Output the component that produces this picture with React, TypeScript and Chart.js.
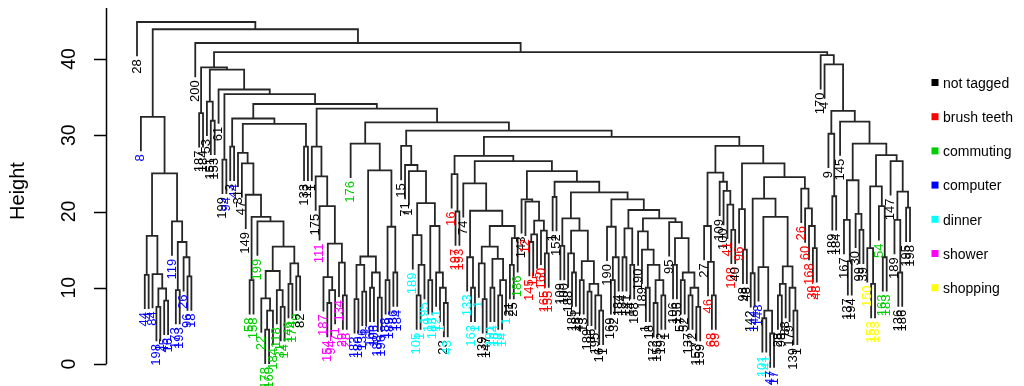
import React, { useEffect, useRef } from "react";
import { Chart, registerables } from "chart.js";

Chart.register(...registerables);

// ---- axis / legend data ----
const yTicks = [0, 10, 20, 30, 40];
const axisTop = 46.7;
const legendLabels = ["not tagged", "brush teeth", "commuting", "computer", "dinner", "shower", "shopping"];
const legendColors = ["#000000", "#FF0000", "#00CD00", "#0000FF", "#00FFFF", "#FF00FF", "#FFFF00"];
const colorCodes = ["k", "r", "g", "b", "c", "m", "y"];
const hang = 4.5;

// ---- dendrogram (leaf = label + group code, node = (left,right)height) ----
const clusterC8 = "(8b,(((44b,4b)11.7,(84b,((198b,1b)7.5,(45b,16b)8.3)9.9)11.8)16.8,(119b,((173b,193b)9.7,(26b,(96b,18b)11.5)14)16)18.7)25)32.4";
const clusterG = "((58g,158g)11,(199g,(((22g,((178g,160g)4.5,184g)7)8.6,(118g,(31g,14g)7.5)9.7)12.2,((146g,174g)10.5,(39g,82k)11.5)13.2)15.4)18.7)19.3";
const clusterQ = `((31k,(47k,(149k,${clusterG})22.2)26.3)27.7,(133k,12k)28.5)31.5`;
const clusterP = `((3k,44b)28.5,${clusterQ})32.2`;
const clusterM = "((187m,((154m,94m)8,71m)9.7)11.4,(134m,(29m,28m)9)13.3)15.8";
const clusterRl = `(1k,(175k,(111m,${clusterM})20.7)24.6)28.5`;
const clusterB = "((((182b,180b)8.5,(136b,1b)9.5)13,((166b,106b)10,(188b,196b)8.7)12)14.1,((188b,189b)11,(186b,184b)12)18)25.4";
const clusterSl = `(176g,${clusterB})28.9`;
const clusterC1 = "(189c,((105c,1c)9,195c)13)16.9";
const clusterC2 = "((19c,183c)11,(121c,(1c,(23k,43c)8)10)12)18.1";
const clusterTl = `(15k,(71k,(1k,(${clusterC1},${clusterC2})21.1)25.3)26.1)28.6`;
const clusterVl = "(16r,(197r,193r)20)24.9";
const clusterWn = "((133c,(163c,1c)10)14,(((1c,(139k,147k)8.5)13.2,((191c,184c)10,((18c,14c)9,1c)11)13.8)15.4,((21k,25k)13,186g)16.5)18.1)20.1";
const clusterX1l = "(143k,(12r,(((145r,1r)16,5r)17,(160r,(165r,155r)14.5)17.5)18.8)21.3)21.6";
const clusterZ1l = "((109k,100k)15.5,((188k,(185k,181k)12)14.5,((43k,13k)11,((189k,86k)9.5,(195k,(16k,1k)7)9)10.5)13.5)17.5)19.1";
const clusterZ2l = "(190k,((169k,32k)11,184k)14)18";
const clusterZ3l = "((184k,141k)14,(14k,188k)13)17.8";
const clusterZ4l = "(190k,(189k,((1k,18k)10,((172k,153k)8,(192k,1k)9)11)13)15)17.4";
const clusterZ5 = "(95k,((106k,156k)13,((57k,52k)11,((137k,72k)9,(153k,159k)7.5)10)12)16.5)18.6";
const clusterY1l = "((27k,(46r,(68r,89r)9)13.4)18.1,(109k,(100k,(41r,(108r,40k)17.6)20.9)22.7)23.9)25.1";
const clusterY3r = "((148b,((101c,141c)6,(47b,17b)4)7)12.7,(((28k,98k)9,88k)10.5,(179k,(139k,1k)7)10)12.8)19.3";
const clusterY4 = "(26r,(60r,(168r,(39r,48r)15.2)18.1)20.4)23";
const clusterN5d = "((167k,(137k,194k)13.5)18.9,(30k,(99k,39k)17.6)19.7)24.1";
const clusterN5f = "((150y,(153y,183y)10.5)15.2,(54g,(163g,183g)14)20.7)23.3";
const clusterN5g = "(147k,((189k,(136k,186k)12)18.9,(195k,198k)20.5)22.6)26.6";

const clusterZ = `(${clusterZ1l},(${clusterZ2l},(${clusterZ3l},(${clusterZ4l},${clusterZ5})19.1)20.2)21.6)22.5`;
const clusterX1 = `(${clusterX1l},((1k,152k)21.9,${clusterZ})23.9)25.3`;
const clusterV = `(${clusterVl},((74k,${clusterWn})23.7,${clusterX1})26.6)27.3`;
const clusterY1 = `(${clusterY1l},((96r,(98k,48k)15)20.3,(((142k,144b)11.9,${clusterY3r})21.7,${clusterY4})24.5)26.3)28.6`;
const clusterS = `(${clusterSl},(${clusterTl},(${clusterV},${clusterY1})29.8)30.6)31.7`;
const clusterN4 = `((187k,184k)32.9,((53k,(151k,153k)31.9)34.4,(61k,((199k,94b)26.8,(${clusterP},(${clusterRl},${clusterS})33.5)34.1)35.4)36)38.6)38.9`;
const clusterN5 = `(170k,(4k,((9k,(189k,184k)22)30.2,(145k,(${clusterN5d},(${clusterN5f},${clusterN5g})27.4)28.9)31.8)33.2)39.3)40.5`;
const treeRoot = `(28k,(${clusterC8},(200k,(${clusterN4},${clusterN5})40.9)42.1)43.9)44.85`;

type TNode =
  | { leaf: true; label: string; code: string }
  | { leaf: false; h: number; left: TNode; right: TNode };

function parseTree(s: string): TNode {
  let i = 0;
  const readNum = () => {
    const j = i;
    while (i < s.length && /[0-9.]/.test(s[i])) i++;
    return parseFloat(s.slice(j, i));
  };
  const node = (): TNode => {
    if (s[i] === "(") {
      i++;
      const left = node();
      i++; // ,
      const right = node();
      i++; // )
      const h = readNum();
      return { leaf: false, h, left, right };
    }
    const j = i;
    while (/[0-9]/.test(s[i])) i++;
    const label = s.slice(j, i);
    const code = s[i];
    i++;
    return { leaf: true, label, code };
  };
  return node();
}

type Leaf = { idx: number; label: string; color: string; yEnd: number };

function layout(root: TNode) {
  const segs: { x: number; y: number }[] = [];
  const leaves: Leaf[] = [];
  let counter = 0;
  const walk = (n: TNode, parentH: number): { x: number; y: number } => {
    if (n.leaf) {
      const idx = counter++;
      const yEnd = parentH - hang;
      leaves.push({ idx, label: n.label, color: legendColors[colorCodes.indexOf(n.code)], yEnd });
      return { x: idx, y: yEnd };
    }
    const a = walk(n.left, n.h);
    const b = walk(n.right, n.h);
    segs.push({ x: a.x, y: a.y }, { x: a.x, y: n.h }, { x: b.x, y: n.h }, { x: b.x, y: b.y }, { x: b.x, y: NaN });
    return { x: (a.x + b.x) / 2, y: n.h };
  };
  walk(root, 0);
  return { segs, leaves, n: counter };
}

const FONT = "'Liberation Sans', Arial, Helvetica, sans-serif";

export default function App() {
  const ref = useRef<HTMLCanvasElement | null>(null);

  useEffect(() => {
    if (!ref.current) return;
    const { segs, leaves, n } = layout(parseTree(treeRoot));
    // leaf 0 at 137px, last leaf at 910px; height 0 at 364px, 7.625px per unit
    const dx = (910 - 137) / (n - 1);
    const xmin = -137 / dx;
    const xmax = xmin + 1024 / dx;
    const pxPerUnit = 7.625;
    const ymin = -(386 - 364) / pxPerUnit;
    const ymax = ymin + 386 / pxPerUnit;

    const decor = {
      id: "decor",
      afterDraw(chart: any) {
        const ctx = chart.ctx as CanvasRenderingContext2D;
        const xs = chart.scales.x;
        const ys = chart.scales.y;
        ctx.save();
        // leaf labels
        ctx.font = `13px ${FONT}`;
        ctx.textAlign = "right";
        ctx.textBaseline = "middle";
        for (const lf of leaves) {
          const px = xs.getPixelForValue(lf.idx);
          const py = ys.getPixelForValue(lf.yEnd) + 3;
          ctx.save();
          ctx.translate(px, py);
          ctx.rotate(-Math.PI / 2);
          ctx.fillStyle = lf.color;
          ctx.fillText(lf.label, 0, 0);
          ctx.restore();
        }
        // y axis
        const ax = 106.5;
        ctx.strokeStyle = "#000";
        ctx.lineWidth = 1.5;
        ctx.beginPath();
        ctx.moveTo(ax, ys.getPixelForValue(0));
        ctx.lineTo(ax, ys.getPixelForValue(axisTop));
        for (const t of yTicks) {
          const py = Math.round(ys.getPixelForValue(t)) + 0.5;
          ctx.moveTo(ax, py);
          ctx.lineTo(94, py);
        }
        ctx.stroke();
        ctx.fillStyle = "#000";
        ctx.font = `19.5px ${FONT}`;
        ctx.textAlign = "center";
        ctx.textBaseline = "middle";
        for (const t of yTicks) {
          const py = ys.getPixelForValue(t);
          ctx.save();
          ctx.translate(70, py);
          ctx.rotate(-Math.PI / 2);
          ctx.fillText(String(t), 0, 0);
          ctx.restore();
        }
        ctx.save();
        ctx.font = `20px ${FONT}`;
        ctx.translate(18, 191);
        ctx.rotate(-Math.PI / 2);
        ctx.fillText("Height", 0, 0);
        ctx.restore();
        // legend
        ctx.font = `14px ${FONT}`;
        ctx.textAlign = "left";
        for (let k = 0; k < legendLabels.length; k++) {
          const cy = 83 + k * 34.2;
          ctx.fillStyle = legendColors[k];
          ctx.fillRect(931.5, cy - 4, 7, 7);
          ctx.fillStyle = "#000";
          ctx.fillText(legendLabels[k], 943, cy + 1);
        }
        ctx.restore();
      },
    };

    const chart = new Chart(ref.current, {
      type: "scatter",
      data: {
        datasets: [
          {
            data: segs,
            showLine: true,
            borderColor: "#262626",
            borderWidth: 1.8,
            pointRadius: 0,
            pointHoverRadius: 0,
            spanGaps: false,
            tension: 0,
            borderJoinStyle: "miter",
            borderCapStyle: "butt",
          } as any,
        ],
      },
      options: {
        animation: false,
        responsive: true,
        maintainAspectRatio: false,
        events: [],
        layout: { padding: 0 },
        plugins: { legend: { display: false }, tooltip: { enabled: false } },
        scales: {
          x: { type: "linear", display: false, min: xmin, max: xmax },
          y: { type: "linear", display: false, min: ymin, max: ymax },
        },
      },
      plugins: [decor],
    });
    return () => chart.destroy();
  }, []);

  return (
    <div style={{ position: "absolute", left: 0, top: 0, width: 1024, height: 386, background: "#fff" }}>
      <canvas ref={ref} />
    </div>
  );
}
